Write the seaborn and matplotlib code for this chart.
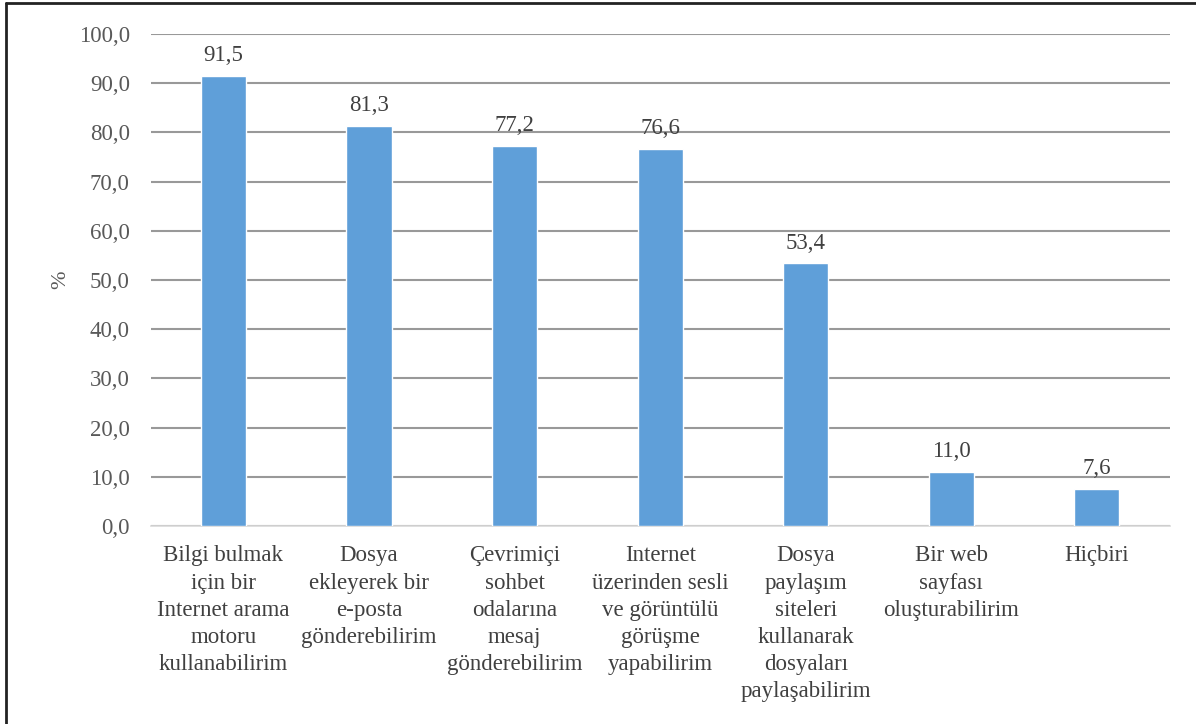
import pandas as pd
import seaborn as sns
import matplotlib.pyplot as plt
from matplotlib.lines import Line2D

sns.set_theme()
sns.set_style("white")
plt.rcParams['font.family'] = ['Liberation Serif', 'DejaVu Serif']

categories = [
    "Bilgi bulmak\niçin bir\nInternet arama\nmotoru\nkullanabilirim",
    "Dosya\nekleyerek bir\ne-posta\ngönderebilirim",
    "Çevrimiçi\nsohbet\nodalarına\nmesaj\ngönderebilirim",
    "Internet\nüzerinden sesli\nve görüntülü\ngörüşme\nyapabilirim",
    "Dosya\npaylaşım\nsiteleri\nkullanarak\ndosyaları\npaylaşabilirim",
    "Bir web\nsayfası\noluşturabilirim",
    "Hiçbiri",
]
values = [91.5, 81.3, 77.2, 76.6, 53.4, 11.0, 7.6]

df = pd.DataFrame({"cat": categories, "val": values})

fig = plt.figure(figsize=(11.96, 7.24), dpi=100)
ax = fig.add_axes([0.126, 0.2735, 0.852, 0.6795])

sns.barplot(data=df, x="cat", y="val", color="#5f9fd9", saturation=1,
            width=0.31, ax=ax, zorder=3)

ax.set_ylim(0, 100)
ax.set_yticks(range(0, 101, 10))
ax.set_yticklabels([f"{v:.1f}".replace(".", ",") for v in range(0, 101, 10)],
                   fontsize=16.5, color="#595959")
ax.yaxis.grid(True, color="#999999", linewidth=1.5, zorder=0)
ax.set_axisbelow(True)
for s in ["top", "right", "left"]:
    ax.spines[s].set_visible(False)
ax.spines["bottom"].set_color("#d9d9d9")
ax.spines["bottom"].set_linewidth(1.2)
ax.tick_params(axis="y", length=0, pad=15)
ax.tick_params(axis="x", length=0, pad=14)
ax.set_xlabel("")
ax.set_ylabel("%", fontsize=16, color="#595959", labelpad=6)
for lab in ax.get_xticklabels():
    lab.set_fontsize(16.5)
    lab.set_color("#404040")
    lab.set_linespacing(1.38)
    lab.set_verticalalignment("top")

for i, v in enumerate(values):
    ax.annotate(f"{v:.1f}".replace(".", ","), (i, v), xytext=(0, 7),
                textcoords="offset points", ha="center", va="bottom",
                fontsize=16.5, color="#404040")

# frame of the picture (only the top and left edges show in the crop)
fig.lines.append(Line2D([0.005, 0.005], [0.0, 0.996], transform=fig.transFigure,
                        color="#222222", linewidth=2))
fig.lines.append(Line2D([0.005, 1.0], [0.996, 0.996], transform=fig.transFigure,
                        color="#222222", linewidth=2))

fig.savefig("out.png", dpi=100)
